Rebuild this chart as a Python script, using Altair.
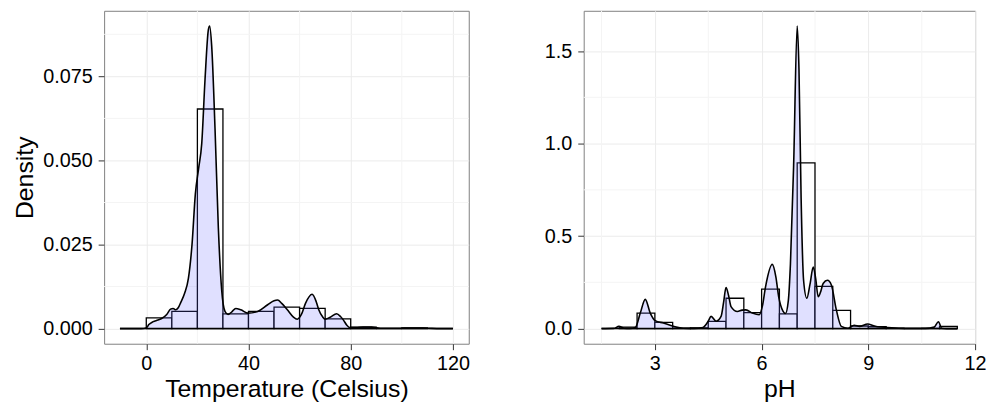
import altair as alt
import pandas as pd

FONT = "Liberation Sans"

# ---------------- Temperature panel data ----------------
temp_bin_start = [0, 10, 20, 30, 40, 50, 60, 70, 80, 90, 100]
temp_bin_height = [0.0032, 0.0051, 0.0653, 0.0044, 0.0051, 0.0064, 0.0060, 0.0029, 0.0004, 0.0, 0.0002]
temp_bin_width = 10
temp_x = [-10.3, -2, 0, 1, 2.5, 4, 6, 8, 9.5, 10.5, 11.5, 12.5, 13.5, 15, 16.5, 17.9, 19.2,
          20.5, 21.7, 23, 24.3, 24.8, 25.6, 26.9, 28.2, 29.5, 30.8, 32, 33.5, 35, 37, 39.8,
          43.6, 47.5, 50, 51.4, 53, 55.2, 57.5, 59.1, 60.7, 62.3, 64.9, 66.5, 67.5, 69, 70,
          72, 74.5, 76, 77.1, 78.5, 79.7, 82, 84.8, 87, 88.7, 92.6, 98, 104, 110, 115, 120]
temp_d = [0, 0, 0.0002, 0.0012, 0.0020, 0.0024, 0.0030, 0.0042, 0.0058, 0.0060, 0.0056, 0.0062,
          0.0078, 0.0105, 0.0150, 0.0250, 0.0400, 0.0477, 0.0550, 0.0742, 0.0889, 0.0900,
          0.0840, 0.0595, 0.0300, 0.0115, 0.0051, 0.0042, 0.0050, 0.0060, 0.0056, 0.0046,
          0.0051, 0.0071, 0.0083, 0.0085, 0.0075, 0.0056, 0.0035, 0.0028, 0.0042, 0.0075,
          0.0102, 0.0080, 0.0056, 0.0035, 0.0028, 0.0034, 0.0044, 0.0036, 0.0026, 0.0010,
          0.0003, 0.0003, 0.0005, 0.0005, 0.0004, 0.0001, 0.0001, 0.0002, 0.0001, 0, 0]
temp_range = [-10.3, 120]
temp_xdomain = [-16.5, 126.2]
temp_ydomain = [-0.0045, 0.0945]
temp_xticks = [0, 40, 80, 120]
temp_xminor = [20, 60, 100]
temp_yticks = [0, 0.025, 0.05, 0.075]
temp_yminor = [0.0125, 0.0375, 0.0625, 0.0875]

# ---------------- pH panel data ----------------
ph_bin_start = [2.0, 2.5, 3.0, 3.5, 4.0, 4.5, 5.0, 5.5, 6.0, 6.5, 7.0, 7.5, 8.0, 8.5, 9.0,
                9.5, 10.0, 10.5, 11.0]
ph_bin_height = [0.008, 0.084, 0.034, 0.002, 0.004, 0.039, 0.164, 0.086, 0.213, 0.080, 0.896,
                 0.228, 0.098, 0.014, 0.010, 0.002, 0.0, 0.001, 0.012]
ph_bin_width = 0.5
ph_x = [1.5, 1.85, 1.99, 2.13, 2.3, 2.45, 2.59, 2.73, 2.87, 3.01, 3.24, 3.52, 3.8, 4.1, 4.35,
        4.5, 4.58, 4.72, 4.86, 4.93, 5.0, 5.07, 5.14, 5.32, 5.45, 5.56, 5.74, 5.93, 6.02, 6.11,
        6.3, 6.4, 6.48, 6.6, 6.67, 6.75, 6.81, 6.9, 7.0, 7.05, 7.11, 7.18, 7.27, 7.36, 7.45,
        7.52, 7.59, 7.66, 7.73, 7.85, 7.96, 8.10, 8.24, 8.43, 8.6, 8.75, 8.98, 9.15, 9.26,
        9.54, 10.0, 10.6, 10.85, 10.97, 11.06, 11.2, 11.5]
ph_d = [0, 0.001, 0.012, 0.002, 0.001, 0.006, 0.084, 0.158, 0.084, 0.043, 0.030, 0.013, 0.002,
        0.001, 0.006, 0.040, 0.066, 0.040, 0.066, 0.140, 0.222, 0.180, 0.119, 0.092, 0.100,
        0.101, 0.084, 0.075, 0.120, 0.226, 0.347, 0.280, 0.172, 0.095, 0.082, 0.150, 0.350,
        0.884, 1.636, 1.400, 0.706, 0.260, 0.164, 0.240, 0.333, 0.270, 0.172, 0.200, 0.244,
        0.261, 0.236, 0.101, 0.012, 0.002, 0.018, 0.012, 0.025, 0.015, 0.010, 0.006, 0.001,
        0.001, 0.008, 0.037, 0.002, 0.0, 0.0]
ph_range = [1.5, 11.5]
ph_xdomain = [1.0, 12.0]
ph_ydomain = [-0.0818, 1.7178]
ph_xticks = [3, 6, 9, 12]
ph_xminor = [1.5, 4.5, 7.5, 10.5]
ph_yticks = [0, 0.5, 1.0, 1.5]
ph_yminor = [0.25, 0.75, 1.25]


def panel(bin_start, bin_h, bw, dx, dy, rng, xdom, ydom, xticks, xminor, yticks, yminor,
          xtitle, ytitle, yfmt, width, height):
    hist = pd.DataFrame({"x": bin_start, "x2": [b + bw for b in bin_start], "y": bin_h})
    dens = pd.DataFrame({"x": dx, "y": dy})
    base = pd.DataFrame({"x": [rng[0]], "x2": [rng[1]], "y": [0.0]})
    xm = pd.DataFrame({"x": xminor})
    ym = pd.DataFrame({"y": yminor})

    xs = alt.Scale(domain=xdom, nice=False, zero=False)
    ys = alt.Scale(domain=ydom, nice=False, zero=False)
    xax = alt.Axis(values=xticks, grid=True, gridColor="#EBEBEB", labelPadding=4,
                   titlePadding=3, labelFlush=False)
    if ytitle:
        yax = alt.Axis(values=yticks, grid=True, gridColor="#EBEBEB", format=yfmt,
                       labelPadding=6, titlePadding=5, title=ytitle)
    else:
        yax = alt.Axis(values=yticks, grid=True, gridColor="#EBEBEB", format=yfmt,
                       labelPadding=6, title=None)

    X = lambda f="x": alt.X(f"{f}:Q", scale=xs, axis=xax, title=xtitle)
    Y = lambda f="y": alt.Y(f"{f}:Q", scale=ys, axis=yax)

    minor_v = alt.Chart(xm).mark_rule(color="#F4F4F4", strokeWidth=1).encode(x=X())
    minor_h = alt.Chart(ym).mark_rule(color="#F4F4F4", strokeWidth=1).encode(y=Y())
    bars = alt.Chart(hist).mark_rect(fill="white", stroke="black", strokeWidth=1.3).encode(
        x=X(), x2="x2:Q", y=Y(), y2=alt.datum(0))
    area = alt.Chart(dens).mark_area(fill="#6666FF", fillOpacity=0.2,
                                     interpolate="monotone").encode(
        x=X(), y=Y(), y2=alt.datum(0))
    baseline = alt.Chart(base).mark_rule(color="black", strokeWidth=1.5).encode(
        x=X(), x2="x2:Q", y=Y())
    line = alt.Chart(dens).mark_line(color="black", strokeWidth=1.6,
                                     interpolate="monotone").encode(x=X(), y=Y())
    return alt.layer(minor_v, minor_h, bars, area, baseline, line).properties(
        width=width, height=height)


left = panel(temp_bin_start, temp_bin_height, temp_bin_width, temp_x, temp_d, temp_range,
             temp_xdomain, temp_ydomain, temp_xticks, temp_xminor, temp_yticks, temp_yminor,
             "Temperature (Celsius)", "Density", ".3f", 368, 336)
right = panel(ph_bin_start, ph_bin_height, ph_bin_width, ph_x, ph_d, ph_range,
              ph_xdomain, ph_ydomain, ph_xticks, ph_xminor, ph_yticks, ph_yminor,
              "pH", None, ".1f", 395, 336)

chart = alt.hconcat(left, right, spacing=73).properties(
    padding={"left": 4, "top": 0, "right": 0, "bottom": 0}
).configure_view(
    stroke="#7F7F7F", strokeWidth=1
).configure_axis(
    labelFont=FONT, titleFont=FONT, labelFontSize=20, titleFontSize=25,
    labelColor="black", titleColor="black", titleFontWeight="normal",
    tickColor="#333333", tickSize=6, domain=False
)

chart.save("out.html", embed_options={"renderer": "svg", "actions": False})
